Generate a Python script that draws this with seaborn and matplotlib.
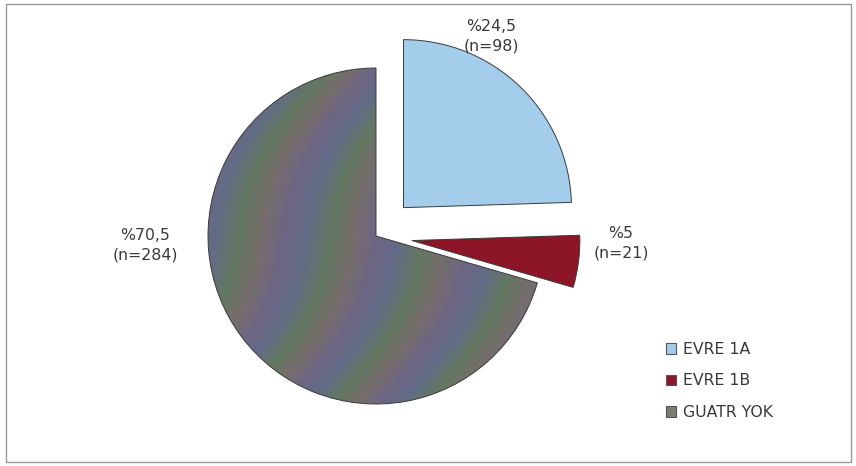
import numpy as np
import matplotlib
matplotlib.use('Agg')
import matplotlib.pyplot as plt
import seaborn as sns
from matplotlib.patches import Patch, Rectangle
from matplotlib.colors import LinearSegmentedColormap

# ---- data ----
categories = ['EVRE 1A', 'EVRE 1B', 'GUATR YOK']
percent = [24.5, 5, 70.5]
counts = [98, 21, 284]
pct_labels = ['%24,5', '%5', '%70,5']

colors = ['#a3cdea', '#8c1628', '#6a6a78']

sns.set_theme(style='white')
plt.rcParams['font.family'] = ['DejaVu Sans']

W, H = 856, 466
fig = plt.figure(figsize=(W / 100, H / 100), dpi=100)
fig.patch.set_facecolor('white')
ax = fig.add_axes([0, 0, 1, 1])

R = 168.0
cx, cy = 376.0, 236.0  # pie centre in pixels (from top-left)

def p2d(px, py):
    return (px - cx) / R, (cy - py) / R

wedges, _ = ax.pie(percent, startangle=90, counterclock=False,
                   explode=[0.235, 0.215, 0.0], colors=colors,
                   wedgeprops=dict(edgecolor='#3a3a3a', linewidth=0.7))
ax.set_aspect('auto')
ax.axis('off')

# textured fill of the large wedge (styling only)
gx = np.linspace(-1.05, 1.05, 500)
gy = np.linspace(-1.05, 1.05, 500)
X, Y = np.meshgrid(gx, gy)
phase = (X * 1.0 - Y * 0.5 + 0.10 * np.sin(3.5 * Y)) / 0.55
tex = np.mod(phase, 1.0)
cmap = LinearSegmentedColormap.from_list(
    'band', ['#6e6584', '#626c86', '#637861', '#766e6c', '#6e6584'])
big = wedges[2]
big.set_facecolor('none')
im = ax.imshow(tex, extent=(-1.05, 1.05, -1.05, 1.05), origin='lower',
               cmap=cmap, interpolation='bilinear', zorder=0.5, aspect='auto')
im.set_clip_path(big)
ax.set_xlim(-cx / R, (W - cx) / R)
ax.set_ylim(-(H - cy) / R, cy / R)

# labels
label_pos = [(491, 36), (621, 243), (145, 245)]
for (px, py), pl, n in zip(label_pos, pct_labels, counts):
    x, y = p2d(px, py)
    ax.text(x, y, f'{pl}\n(n={n})', ha='center', va='center',
            fontsize=11.3, color='#3a3a3a', linespacing=1.4)

# legend
handles = [Patch(facecolor=c, edgecolor='#555555', linewidth=0.8)
           for c in ['#a3cdea', '#8c1628', '#7a7c72']]
fig.legend(handles, categories, loc='upper left',
           bbox_to_anchor=(666 / W, 1 - 342 / H), frameon=False,
           fontsize=11.3, handlelength=0.65, handleheight=0.65,
           handletextpad=0.45, labelspacing=1.05, borderpad=0,
           borderaxespad=0, labelcolor='#3a3a3a')

# outer frame
fig.patches.append(Rectangle((6 / W, 1 - 462 / H), 845 / W, 458 / H,
                             transform=fig.transFigure, fill=False,
                             edgecolor='#999999', linewidth=1.0))

fig.savefig('out.png', dpi=100, facecolor='white')
